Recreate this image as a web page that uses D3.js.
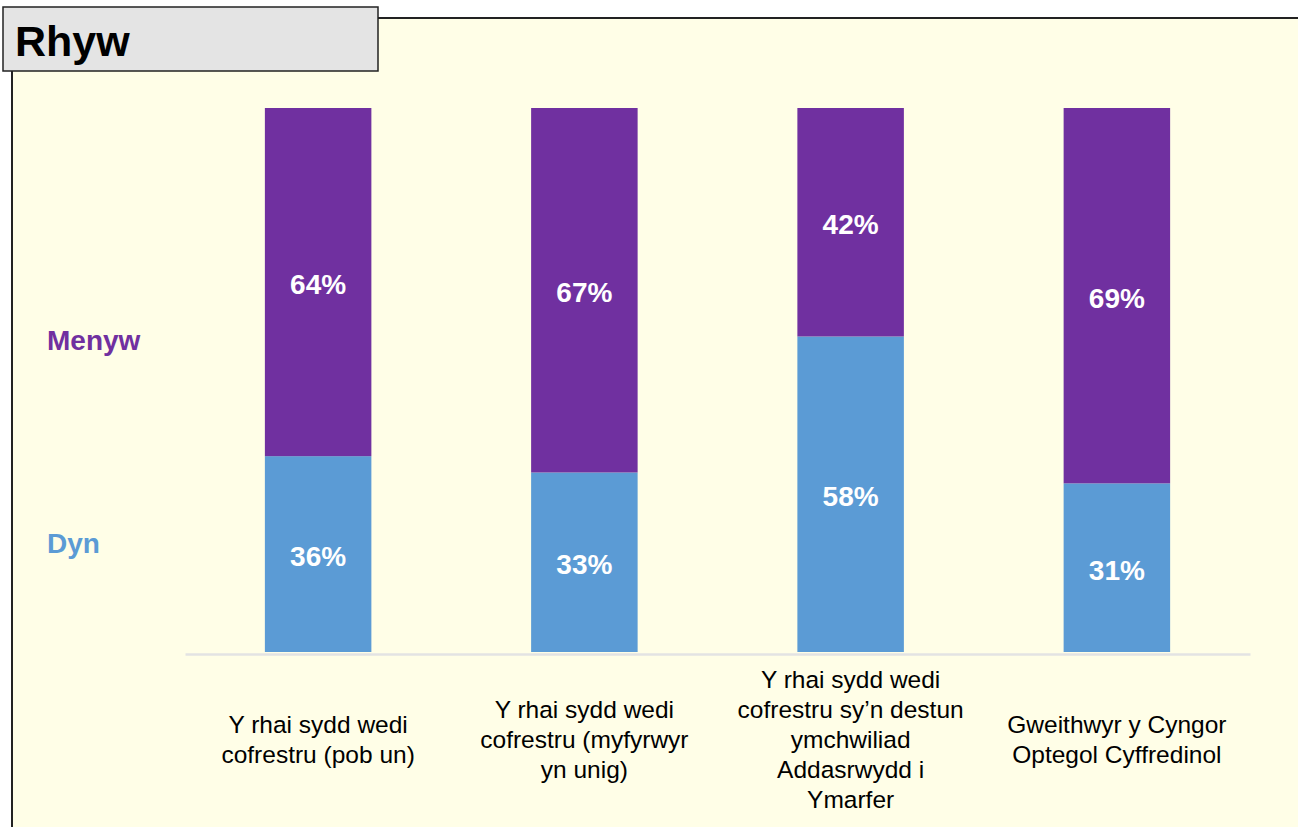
<!DOCTYPE html>
<html>
<head>
<meta charset="utf-8">
<script src="https://cdn.jsdelivr.net/npm/d3@7"></script>
<style>
  html, body { margin: 0; padding: 0; background: #ffffff; }
  svg { display: block; }
</style>
</head>
<body>
<svg id="chart" width="1298" height="827"></svg>
<script>
// ---- Data ----
const categories = [
  ["Y rhai sydd wedi", "cofrestru (pob un)"],
  ["Y rhai sydd wedi", "cofrestru (myfyrwyr", "yn unig)"],
  ["Y rhai sydd wedi", "cofrestru sy\u2019n destun", "ymchwiliad", "Addasrwydd i", "Ymarfer"],
  ["Gweithwyr y Cyngor", "Optegol Cyffredinol"]
];
const seriesNames = ["Dyn", "Menyw"];
const dynValues = [36, 33, 58, 31];
const menywValues = [64, 67, 42, 69];
const title = "Rhyw";

// ---- Layout ----
const svg = d3.select("#chart");
const W = 1298, H = 827;
const colors = { Dyn: "#5B9BD5", Menyw: "#7030A0" };
const font = "'Liberation Sans', Arial, sans-serif";

// panel
svg.append("rect").attr("x", 12).attr("y", 18).attr("width", W).attr("height", H)
  .attr("fill", "#FFFEE7").attr("stroke", "#222").attr("stroke-width", 2);

const x = d3.scaleBand().domain(d3.range(categories.length))
  .range([185, 1250]).paddingInner(0.6).paddingOuter(0.3);
const y = d3.scaleLinear().domain([0, 100]).range([652, 108]);

const data = categories.map((c, i) => ({ i, Dyn: dynValues[i], Menyw: menywValues[i] }));
const stack = d3.stack().keys(seriesNames)(data);

const g = svg.append("g");
stack.forEach(layer => {
  g.selectAll(null).data(layer).enter().append("rect")
    .attr("x", d => x(d.data.i))
    .attr("width", x.bandwidth())
    .attr("y", d => y(d[1]))
    .attr("height", d => y(d[0]) - y(d[1]))
    .attr("fill", colors[layer.key]);
  g.selectAll(null).data(layer).enter().append("text")
    .attr("x", d => x(d.data.i) + x.bandwidth() / 2)
    .attr("y", d => (y(d[0]) + y(d[1])) / 2 + 2)
    .attr("dy", "0.36em")
    .attr("text-anchor", "middle")
    .attr("font-family", font).attr("font-weight", "bold").attr("font-size", 28)
    .attr("fill", "#ffffff")
    .text(d => (d[1] - d[0]) + "%");
});

// baseline axis
const axis = d3.axisBottom(x).tickSize(0).tickFormat("");
const ax = svg.append("g").attr("transform", "translate(0,654)").call(axis);
ax.select(".domain").attr("stroke", "#e3e3e3").attr("stroke-width", 2.5);

// category labels
categories.forEach((lines, i) => {
  const t = svg.append("text")
    .attr("text-anchor", "middle")
    .attr("font-family", font).attr("font-size", 24.5)
    .attr("fill", "#000");
  const cx = x(i) + x.bandwidth() / 2;
  const first = 747.5 - (lines.length - 1) * 15;
  lines.forEach((ln, k) => {
    t.append("tspan").attr("x", cx).attr("y", first + k * 30).text(ln);
  });
});

// legend labels
const legendY = { Menyw: 350, Dyn: 553 };
seriesNames.forEach(s => {
  svg.append("text").attr("x", 47).attr("y", legendY[s])
    .attr("font-family", font).attr("font-weight", "bold").attr("font-size", 28)
    .attr("fill", colors[s]).text(s);
});

// title box
svg.append("rect").attr("x", 3).attr("y", 7).attr("width", 375).attr("height", 64)
  .attr("fill", "#E4E4E4").attr("stroke", "#222").attr("stroke-width", 1.5);
svg.append("text").attr("x", 15).attr("y", 56)
  .attr("font-family", font).attr("font-weight", "bold").attr("font-size", 43)
  .attr("fill", "#000").text(title);
</script>
</body>
</html>
